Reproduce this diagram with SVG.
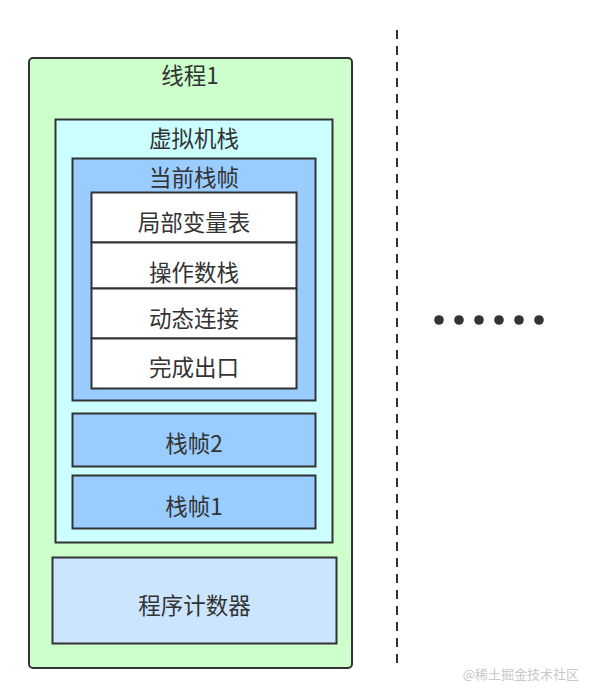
<svg xmlns="http://www.w3.org/2000/svg" width="598" height="700" viewBox="0 0 598 700">
<style>
.box{stroke:#333;stroke-width:2}
.t{font-family:"Noto Sans CJK SC","Liberation Sans",sans-serif;font-size:22.5px;fill:#333;text-anchor:middle}
</style>
<rect width="598" height="700" fill="#fff"/>
<g id="thread1">
<rect class="box" x="29" y="58" width="323" height="610" rx="4" fill="#ccffcc"/>
<text class="t" x="190" y="84">线程1</text>
</g>
<g id="vmstack">
<rect class="box" x="55.5" y="119.5" width="277" height="423" fill="#ccffff"/>
<text class="t" x="194" y="147">虚拟机栈</text>
</g>
<g id="currentframe">
<rect class="box" x="72.5" y="158.5" width="243" height="242" fill="#99ccff"/>
<text class="t" x="194" y="186">当前栈帧</text>
</g>
<g id="localvars">
<rect class="box" x="91.5" y="192.5" width="205" height="50" fill="#fff"/>
<text class="t" x="194" y="231">局部变量表</text>
</g>
<g id="operandstack">
<rect class="box" x="91.5" y="242.5" width="205" height="46" fill="#fff"/>
<text class="t" x="194" y="281">操作数栈</text>
</g>
<g id="dynlink">
<rect class="box" x="91.5" y="288.5" width="205" height="50" fill="#fff"/>
<text class="t" x="194" y="327">动态连接</text>
</g>
<g id="returnaddr">
<rect class="box" x="91.5" y="338.5" width="205" height="50" fill="#fff"/>
<text class="t" x="194" y="376">完成出口</text>
</g>
<g id="frame2">
<rect class="box" x="72.5" y="413.5" width="243" height="53" fill="#99ccff"/>
<text class="t" x="194" y="452">栈帧2</text>
</g>
<g id="frame1">
<rect class="box" x="72.5" y="475.5" width="243" height="53" fill="#99ccff"/>
<text class="t" x="194" y="515">栈帧1</text>
</g>
<g id="pc">
<rect class="box" x="52.5" y="557.5" width="284" height="86" fill="#cce5ff"/>
<text class="t" x="194.5" y="614">程序计数器</text>
</g>
<g id="connectors">
<line x1="397" y1="30" x2="397" y2="668" stroke="#333" stroke-width="2" stroke-dasharray="9 7"/>
</g>
<g id="ellipsis" fill="#333">
<circle cx="439" cy="320" r="4.8"/>
<circle cx="459" cy="320" r="4.8"/>
<circle cx="479" cy="320" r="4.8"/>
<circle cx="499" cy="320" r="4.8"/>
<circle cx="519" cy="320" r="4.8"/>
<circle cx="539" cy="320" r="4.8"/>
</g>
<text x="579" y="679" font-family="Noto Sans CJK SC,Liberation Sans,sans-serif" font-size="13" fill="#c8c8c8" text-anchor="end">@稀土掘金技术社区</text>
</svg>
